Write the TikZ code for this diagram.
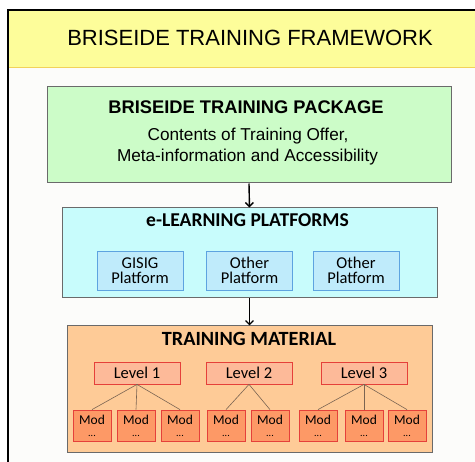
\documentclass[tikz,border=0pt]{standalone}
\usepackage{fontspec}
\setmainfont{Liberation Sans}
\newfontfamily\calib{Carlito}
\usetikzlibrary{arrows.meta}
\definecolor{bgc}{HTML}{FCFCFA}
\definecolor{hdr}{HTML}{FDFD9A}
\definecolor{hdrline}{HTML}{F2D25A}
\definecolor{grn}{HTML}{CCFCC8}
\definecolor{cyn}{HTML}{C8FCFC}
\definecolor{plt}{HTML}{BFEBFB}
\definecolor{pltb}{HTML}{5DA3E0}
\definecolor{org}{HTML}{FECB97}
\definecolor{lvl}{HTML}{FDBA99}
\definecolor{modc}{HTML}{FD9966}
\definecolor{redb}{HTML}{E5403A}
\definecolor{grayb}{HTML}{6A6A6A}
\definecolor{conn}{HTML}{7A6452}
\begin{document}
\begin{tikzpicture}[x=1pt,y=-1pt,
  bigbox/.style={draw=grayb, line width=1pt, rectangle, inner sep=0pt},
  txt/.style={anchor=base, inner sep=0pt},
  pltbox/.style={draw=pltb, fill=plt, line width=0.8pt, rectangle, inner sep=0pt,
    minimum width=86pt, minimum height=39pt, align=center,
    font=\calib\fontsize{16.5}{15}\selectfont},
  lvlbox/.style={draw=redb, fill=lvl, line width=0.8pt, rectangle, inner sep=0pt,
    minimum width=86pt, minimum height=22pt, font=\calib\fontsize{16.5}{16}\selectfont},
  modbox/.style={draw=redb, fill=modc, line width=0.8pt, rectangle, inner sep=0pt,
    minimum width=38pt, minimum height=31pt, align=center,
    font=\calib\fontsize{13.5}{13}\selectfont},
  arr/.style={line width=1.4pt, -{Straight Barb[length=4pt,width=8pt]}},
  link/.style={draw=conn, line width=0.6pt}
]
\useasboundingbox (0,0) rectangle (475,462);
\fill[white] (0,0) rectangle (475,462);
\fill[bgc] (8,10) rectangle (475,462);
\fill[hdr] (8,10) rectangle (475,67);
\draw[hdrline, line width=0.8pt] (8,67) -- (475,67);
\draw[black, line width=2pt] (8,462) -- (8,10) -- (475,10);
\node[txt, font=\fontsize{22}{22}\selectfont] (title) at (250,45.7) {BRISEIDE TRAINING FRAMEWORK};

% package
\node[bigbox, fill=grn, minimum width=404pt, minimum height=96pt] (pkg) at (249,135) {};
\node[txt, font=\bfseries\fontsize{18.3}{18}\selectfont] (pkgt) at (246,114) {BRISEIDE TRAINING PACKAGE};
\node[txt, font=\fontsize{17.2}{17}\selectfont] (pkgs1) at (248,141) {Contents of Training Offer,};
\node[txt, font=\fontsize{17.2}{17}\selectfont] (pkgs2) at (247.5,161.5) {Meta-information and Accessibility};

% platforms
\node[bigbox, fill=cyn, minimum width=375pt, minimum height=90pt] (plat) at (249.5,253) {};
\node[txt, font=\calib\bfseries\fontsize{19.6}{19}\selectfont] (platt) at (247.5,227) {e-LEARNING PLATFORMS};
\node[pltbox] (p1) at (140,270.5) {GISIG\\Platform};
\node[pltbox] (p2) at (249.5,270.5) {Other\\Platform};
\node[pltbox] (p3) at (356,270.5) {Other\\Platform};

% material
\node[bigbox, fill=org, minimum width=365pt, minimum height=127pt] (mat) at (249.5,389.5) {};
\node[txt, font=\calib\bfseries\fontsize{20.2}{19}\selectfont] (matt) at (249,346) {TRAINING MATERIAL};
\node[lvlbox] (l1) at (137,373) {Level 1};
\node[lvlbox] (l2) at (249,373) {Level 2};
\node[lvlbox] (l3) at (364,373) {Level 3};

\foreach \n/\x in {m1/92,m2/136,m3/180,m4/226,m5/270,m6/318,m7/364,m8/407}{
  \node[modbox] (\n) at (\x,425.5) {Mod\\[-1pt]{\fontsize{10}{10}\selectfont ...}};
}
\foreach \a/\b in {l1/m1,l1/m2,l1/m3,l2/m4,l2/m5,l3/m6,l3/m7,l3/m8}{
  \draw[link] (\a.south) -- (\b.north);
}

\draw[arr] (pkg.south) -- (plat.north);
\draw[arr] (plat.south) -- (mat.north);
\end{tikzpicture}
\end{document}
